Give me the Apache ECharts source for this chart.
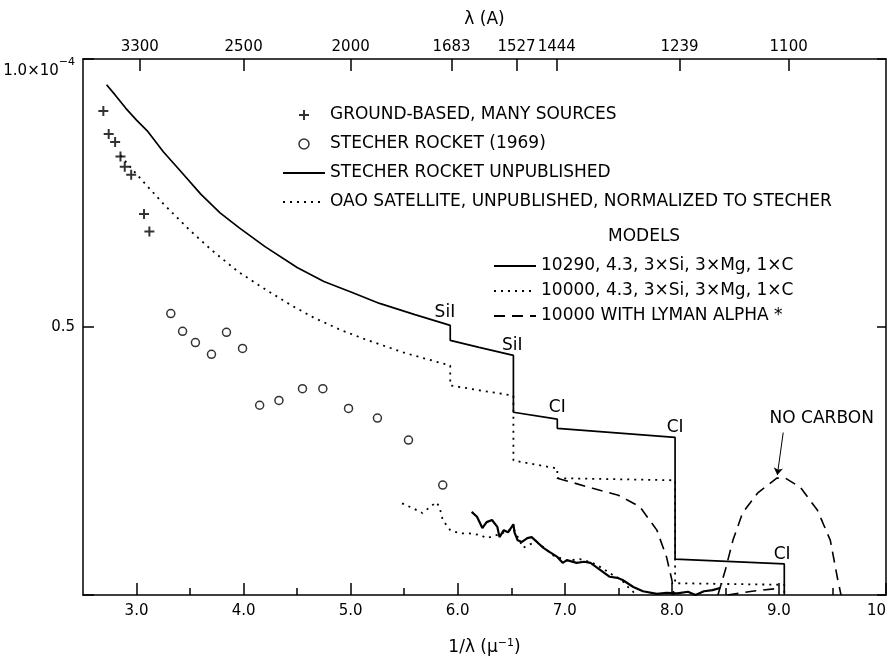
<!DOCTYPE html>
<html>
<head>
<meta charset="utf-8">
<title>UV flux</title>
<script src="https://cdn.jsdelivr.net/npm/echarts@6.0.0/dist/echarts.min.js"></script>
<style>
  html, body { margin: 0; padding: 0; background: #fff; }
  #chart { width: 887px; height: 657px; }
</style>
</head>
<body>
<div id="chart"></div>
<script>
// bottom axis: 1/lambda (micron^-1)
const bottomTicks = [3, 4, 5, 6, 7, 8, 9, 10];
const bottomLabels = ['3.0', '4.0', '5.0', '6.0', '7.0', '8.0', '9.0', '10'];
const bottomMinorTicks = [3.5, 4.5, 5.5, 6.5, 7.5, 8.5, 9.5];
// top axis: lambda (A)
const lambdaLabels = [3300, 2500, 2000, 1683, 1527, 1444, 1239, 1100];

// ground-based, many sources (+)
const groundX = [2.69, 2.74, 2.80, 2.85, 2.89, 2.95, 3.07, 3.12];
const groundY = [0.903, 0.860, 0.845, 0.818, 0.799, 0.784, 0.711, 0.678];

// Stecher rocket (1969) (o)
const rocket69X = [3.32, 3.43, 3.55, 3.70, 3.84, 3.99, 4.15, 4.33, 4.55, 4.74, 4.98, 5.25, 5.54, 5.86];
const rocket69Y = [0.525, 0.492, 0.471, 0.449, 0.490, 0.460, 0.354, 0.363, 0.385, 0.385, 0.348, 0.330, 0.289, 0.205];

// Stecher rocket unpublished (noisy solid)
const rocketX = [6.13, 6.18, 6.23, 6.27, 6.32, 6.37, 6.39, 6.43, 6.47, 6.52, 6.53, 6.56, 6.60, 6.65, 6.69,
  6.74, 6.80, 6.86, 6.93, 6.98, 7.02, 7.11, 7.18, 7.24, 7.33, 7.42, 7.49, 7.54, 7.64, 7.73, 7.86, 7.95,
  8.05, 8.15, 8.22, 8.30, 8.38, 8.45];
const rocketY = [0.155, 0.146, 0.125, 0.136, 0.140, 0.127, 0.108, 0.121, 0.117, 0.132, 0.117, 0.102, 0.099, 0.106, 0.108,
  0.099, 0.088, 0.080, 0.071, 0.060, 0.065, 0.060, 0.062, 0.060, 0.047, 0.034, 0.032, 0.028, 0.015, 0.007, 0.002, 0.004,
  0.003, 0.006, 0.0, 0.007, 0.009, 0.013];

// OAO satellite (noisy dotted)
const oaoX = [5.48, 5.58, 5.67, 5.74, 5.80, 5.83, 5.86, 5.93, 6.02, 6.11, 6.21, 6.27, 6.37, 6.45, 6.52, 6.61,
  6.68, 6.74, 6.89, 7.02, 7.14, 7.26, 7.35, 7.45, 7.52, 7.59, 7.67];
const oaoY = [0.171, 0.162, 0.153, 0.164, 0.173, 0.164, 0.140, 0.121, 0.115, 0.115, 0.112, 0.106, 0.112, 0.118, 0.125, 0.088,
  0.095, 0.099, 0.074, 0.064, 0.067, 0.060, 0.050, 0.037, 0.030, 0.015, 0.0];

// model 10290, 4.3 (solid)
const modelAX = [2.72, 2.80, 2.90, 3.00, 3.10, 3.25, 3.41, 3.60, 3.78, 3.96, 4.20, 4.50, 4.75, 5.02, 5.27, 5.60, 5.93, 5.93,
  6.20, 6.52, 6.52, 6.93, 6.93, 8.03, 8.03, 9.05, 9.05];
const modelAY = [0.952, 0.933, 0.908, 0.886, 0.866, 0.827, 0.791, 0.748, 0.713, 0.685, 0.650, 0.611, 0.585, 0.564, 0.544,
  0.523, 0.503, 0.475, 0.462, 0.447, 0.341, 0.328, 0.311, 0.294, 0.067, 0.058, 0.0];

// model 10000, 4.3 (dotted)
const modelBX = [2.85, 3.00, 3.25, 3.50, 3.71, 3.95, 4.22, 4.45, 4.65, 4.90, 5.15, 5.50, 5.93, 5.93, 6.20, 6.52, 6.52,
  6.93, 6.93, 8.03, 8.03, 9.05, 9.05];
const modelBY = [0.820, 0.785, 0.730, 0.680, 0.642, 0.603, 0.568, 0.540, 0.518, 0.495, 0.476, 0.452, 0.428, 0.391, 0.382,
  0.372, 0.251, 0.236, 0.218, 0.214, 0.022, 0.019, 0.0];

// 10000 with Lyman alpha (dashed), three pieces
const lymanX = [6.93, 7.26, 7.50, 7.70, 7.86, 7.95, 8.00, 8.02];
const lymanY = [0.218, 0.199, 0.186, 0.165, 0.121, 0.071, 0.028, 0.0];
const noCarbonX = [8.43, 8.50, 8.57, 8.66, 8.80, 8.98, 9.06, 9.20, 9.36, 9.48, 9.55, 9.58];
const noCarbonY = [0.0, 0.047, 0.102, 0.153, 0.190, 0.218, 0.218, 0.201, 0.158, 0.102, 0.028, 0.0];
const lymanLowX = [8.52, 8.75, 8.98];
const lymanLowY = [0.0, 0.007, 0.012];

// edge labels
const annText = ['SiI', 'SiI', 'CI', 'CI', 'CI', 'NO CARBON'];
const annX = [5.88, 6.51, 6.93, 8.03, 9.03, 9.40];
const annY = [0.527, 0.466, 0.350, 0.313, 0.076, 0.330];
const arrowFrom = [9.04, 0.303];
const arrowTo = [8.985, 0.224];

const NAME_GROUND = 'GROUND-BASED, MANY SOURCES';
const NAME_R69 = 'STECHER ROCKET (1969)';
const NAME_ROCKET = 'STECHER ROCKET UNPUBLISHED';
const NAME_OAO = 'OAO SATELLITE, UNPUBLISHED, NORMALIZED TO STECHER';
const NAME_A = '10290, 4.3, 3×Si, 3×Mg, 1×C';
const NAME_B = '10000, 4.3, 3×Si, 3×Mg, 1×C';
const NAME_L = '10000 WITH LYMAN ALPHA *';

const zip = (xs, ys) => xs.map((x, i) => [x, ys[i]]);
const INK = '#000';
const FONT = 'DejaVu Sans';
const PLUS = 'path://M5,0L5,10M0,5L10,5';
const DOT = [2, 5];
const DASH = [11, 7];
// hides the marker that line series put in the middle of their legend icon
const NO_MARK = { color: 'rgba(0,0,0,0)', borderWidth: 0, opacity: 0 };

const chart = echarts.init(document.getElementById('chart'));

function lineSeries(name, xs, ys, width, type) {
  return {
    name: name,
    type: 'line',
    data: zip(xs, ys),
    symbol: 'none',
    silent: true,
    animation: false,
    lineStyle: { color: INK, width: width, type: type },
    itemStyle: { color: INK }
  };
}

const option = {
  backgroundColor: '#fff',
  textStyle: { fontFamily: FONT, color: INK },
  animation: false,
  grid: { left: 83, right: 1, top: 59, bottom: 62, containLabel: false, outerBoundsMode: 'none' },
  title: {
    text: 'MODELS',
    left: 608,
    top: 228,
    padding: 0,
    textStyle: { fontFamily: FONT, fontSize: 17, fontWeight: 'normal', color: INK }
  },
  legend: [
    {
      orient: 'vertical', left: 277, top: 101,
      itemWidth: 42, itemHeight: 10, itemGap: 11,
      selectedMode: false,
      textStyle: { fontFamily: FONT, fontSize: 17, color: INK, lineHeight: 18 },
      data: [
        { name: NAME_GROUND, itemStyle: { color: INK, borderColor: INK, borderWidth: 2 } },
        { name: NAME_R69, itemStyle: { color: '#fff', borderColor: INK, borderWidth: 1.5 } },
        { name: NAME_ROCKET, itemStyle: NO_MARK },
        { name: NAME_OAO, itemStyle: NO_MARK }
      ]
    },
    {
      orient: 'vertical', left: 488, top: 252,
      itemWidth: 42, itemHeight: 10, itemGap: 7,
      selectedMode: false,
      textStyle: { fontFamily: FONT, fontSize: 17, color: INK, lineHeight: 18 },
      data: [
        { name: NAME_A, itemStyle: NO_MARK },
        { name: NAME_B, itemStyle: NO_MARK },
        { name: NAME_L, itemStyle: NO_MARK }
      ]
    }
  ],
  xAxis: [
    {
      type: 'value', min: 2.5, max: 10, position: 'bottom',
      name: '1/λ (μ{sup|−1})',
      nameLocation: 'middle', nameGap: 43,
      nameTextStyle: {
        fontFamily: FONT, fontSize: 17, color: INK,
        rich: {
          sup: { fontFamily: FONT, fontSize: 11, color: INK, verticalAlign: 'bottom', padding: [0, 0, 9, 0] }
        }
      },
      axisLine: { onZero: false, lineStyle: { color: INK, width: 1.5 } },
      axisTick: { inside: true, length: 12, customValues: bottomTicks, lineStyle: { color: INK, width: 1.5 } },
      axisLabel: {
        customValues: bottomTicks, margin: 9, fontSize: 15, color: INK, fontFamily: FONT,
        alignMaxLabel: 'right',
        formatter: v => bottomLabels[bottomTicks.indexOf(v)]
      },
      splitLine: { show: false }
    },
    {
      type: 'value', min: 2.5, max: 10, position: 'bottom',
      axisLine: { show: false },
      axisTick: { inside: true, length: 7, customValues: bottomMinorTicks, lineStyle: { color: INK, width: 1.5 } },
      axisLabel: { show: false },
      splitLine: { show: false }
    },
    {
      type: 'value', min: 2.5, max: 10, position: 'top',
      name: 'λ (A)',
      nameLocation: 'middle', nameGap: 31,
      nameTextStyle: { fontFamily: FONT, fontSize: 17, color: INK },
      axisLine: { onZero: false, lineStyle: { color: INK, width: 1.5 } },
      axisTick: {
        inside: true, length: 12, lineStyle: { color: INK, width: 1.5 },
        customValues: lambdaLabels.map(l => 1e4 / l)
      },
      axisLabel: {
        customValues: lambdaLabels.map(l => 1e4 / l), margin: 4, fontSize: 15, color: INK, fontFamily: FONT,
        formatter: v => String(Math.round(1e4 / v))
      },
      splitLine: { show: false }
    }
  ],
  yAxis: [
    {
      type: 'value', min: 0, max: 1, interval: 0.5, position: 'left',
      name: 'F{sub|ν}  ergs / sec / cm{sup|2} / Hz',
      nameLocation: 'middle', nameGap: 47, nameRotate: 90,
      nameTextStyle: {
        fontFamily: FONT, fontSize: 15, fontWeight: 'bold', color: INK,
        padding: [0, 0, 0, 44],
        rich: {
          sub: { fontFamily: FONT, fontSize: 12, fontWeight: 'bold', color: INK, verticalAlign: 'top', padding: [8, 0, 0, 0] },
          sup: { fontFamily: FONT, fontSize: 11, fontWeight: 'bold', color: INK, verticalAlign: 'bottom', padding: [0, 0, 9, 0] }
        }
      },
      axisLine: { onZero: false, lineStyle: { color: INK, width: 1.5 } },
      axisTick: { inside: true, length: 11, lineStyle: { color: INK, width: 1.5 } },
      axisLabel: {
        margin: 8, fontSize: 15, color: INK, fontFamily: FONT,
        formatter: v => v === 1 ? '{a|1.0×10}{sup|−4}' : (v === 0.5 ? '0.5' : ''),
        rich: {
          a: { fontFamily: FONT, fontSize: 15, color: INK, verticalAlign: 'bottom', padding: [24, 0, 0, 0] },
          sup: { fontFamily: FONT, fontSize: 11, color: INK, verticalAlign: 'bottom', padding: [0, 0, 11, 0] }
        }
      },
      splitLine: { show: false }
    },
    {
      type: 'value', min: 0, max: 1, interval: 0.5, position: 'right',
      axisLine: { onZero: false, lineStyle: { color: INK, width: 1.5 } },
      axisTick: { inside: true, length: 9, lineStyle: { color: INK, width: 1.5 } },
      axisLabel: { show: false },
      splitLine: { show: false }
    }
  ],
  series: [
    lineSeries(NAME_A, modelAX, modelAY, 1.7, 'solid'),
    lineSeries(NAME_B, modelBX, modelBY, 1.8, DOT),
    lineSeries(NAME_L, lymanX, lymanY, 1.6, DASH),
    lineSeries(NAME_L, noCarbonX, noCarbonY, 1.6, DASH),
    lineSeries(NAME_L, lymanLowX, lymanLowY, 1.6, DASH),
    lineSeries(NAME_ROCKET, rocketX, rocketY, 2.2, 'solid'),
    lineSeries(NAME_OAO, oaoX, oaoY, 1.8, DOT),
    {
      name: NAME_GROUND,
      type: 'scatter',
      data: zip(groundX, groundY),
      symbol: PLUS,
      symbolSize: 10,
      silent: true,
      itemStyle: { color: INK, borderColor: INK, borderWidth: 2 }
    },
    {
      name: NAME_R69,
      type: 'scatter',
      data: zip(rocket69X, rocket69Y),
      symbol: 'circle',
      symbolSize: 8,
      silent: true,
      itemStyle: { color: '#fff', borderColor: INK, borderWidth: 1.5 }
    },
    {
      name: 'labels',
      type: 'scatter',
      silent: true,
      symbol: 'circle',
      symbolSize: 1,
      itemStyle: { color: 'rgba(0,0,0,0)' },
      data: annText.map((t, i) => ({ value: [annX[i], annY[i]], name: t })),
      label: {
        show: true, position: 'inside', formatter: '{b}',
        fontFamily: FONT, fontSize: 17, color: INK, opacity: 1, textBorderWidth: 0
      },
      markLine: {
        silent: true,
        symbol: ['none', 'arrow'],
        symbolSize: 7,
        animation: false,
        label: { show: false },
        lineStyle: { color: INK, width: 1, type: 'solid' },
        data: [[{ coord: arrowFrom }, { coord: arrowTo }]]
      }
    }
  ]
};

chart.setOption(option);
</script>
</body>
</html>
